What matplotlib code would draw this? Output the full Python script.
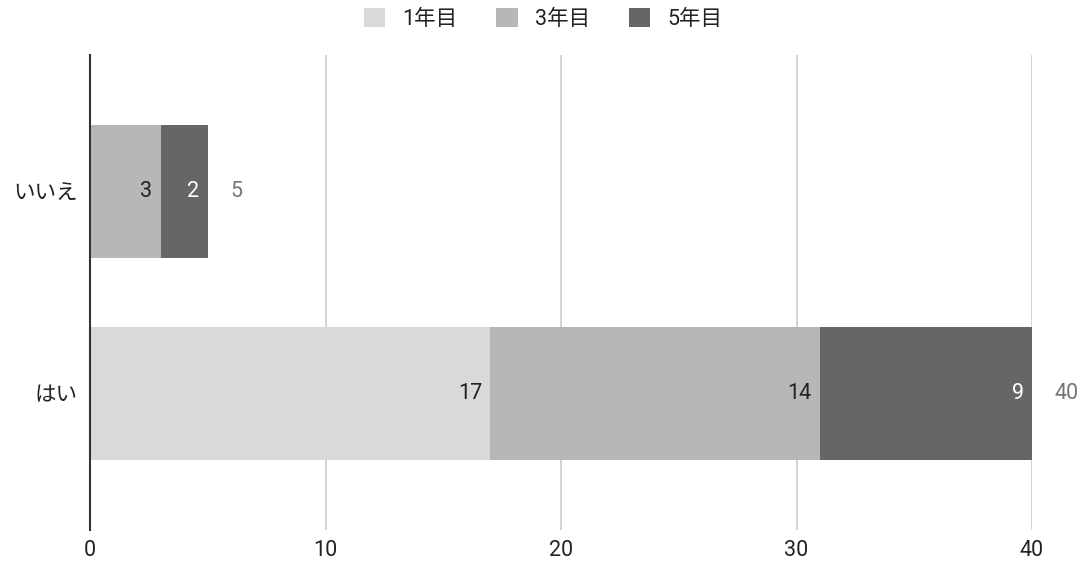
import matplotlib.pyplot as plt
from matplotlib.patches import Patch

plt.rcParams['font.family'] = ['Roboto', 'Noto Sans CJK JP', 'DejaVu Sans']

categories = ['いいえ', 'はい']
series_names = ['1年目', '3年目', '5年目']
values = {
    '1年目': [0, 17],
    '3年目': [3, 14],
    '5年目': [2, 9],
}
colors = ['#d9d9d9', '#b7b7b7', '#666666']
label_colors = ['#222222', '#222222', '#ffffff']
xticks = [0, 10, 20, 30, 40]

fig = plt.figure(figsize=(10.87, 5.66), dpi=100)
ax = fig.add_axes([90 / 1087, 1 - 530 / 566, (1032 - 90) / 1087, (530 - 55) / 566])

ypos = list(range(len(categories)))
left = [0] * len(categories)
for name, col, lc in zip(series_names, colors, label_colors):
    vals = values[name]
    ax.barh(ypos, vals, left=left, height=0.658, color=col, zorder=3)
    for y, v, l in zip(ypos, vals, left):
        if v > 0:
            ax.annotate(str(v), (l + v, y), xytext=(-6, 0), textcoords='offset points',
                        ha='right', va='center', fontsize=15.5, color=lc, zorder=4)
    left = [a + b for a, b in zip(left, vals)]

for y, tot in zip(ypos, left):
    ax.annotate(str(tot), (tot, y), xytext=(16, 0), textcoords='offset points',
                ha='left', va='center', fontsize=15.5, color='#757575')

ax.set_xlim(0, 40)
ax.set_ylim(1.676, -0.676)
ax.set_xticks(xticks)
ax.set_yticks(ypos)
ax.set_yticklabels(categories)
ax.tick_params(length=0, labelsize=15.5, labelcolor='#222222')
ax.tick_params(axis='x', pad=7)
ax.tick_params(axis='y', pad=9)
for s in ['top', 'right', 'bottom']:
    ax.spines[s].set_visible(False)
ax.spines['left'].set_color('#333333')
ax.spines['left'].set_linewidth(1.5)
ax.spines['left'].set_zorder(5)
ax.grid(axis='x', color='#cccccc', linewidth=1.2, zorder=0)
ax.xaxis.get_gridlines()[0].set_visible(False)

handles = [Patch(facecolor=c, edgecolor='none') for c in colors]
fig.legend(handles, series_names, loc='center', bbox_to_anchor=(543 / 1087, 1 - 19 / 566),
           ncol=3, frameon=False, fontsize=15.5, handlelength=1.0, handleheight=1.0,
           columnspacing=1.8, handletextpad=0.8, labelcolor='#222222')

fig.savefig('out.png', dpi=100)
